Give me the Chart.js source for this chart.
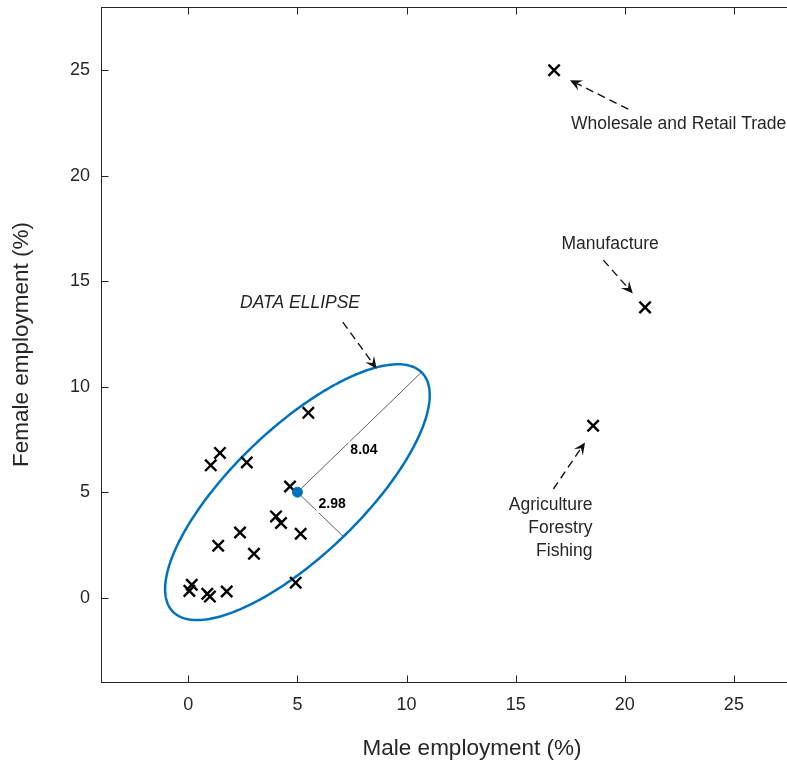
<!DOCTYPE html>
<html><head><meta charset="utf-8">
<script src="https://cdn.jsdelivr.net/npm/chart.js@4.4.1/dist/chart.umd.min.js"></script>
<style>
html,body{margin:0;padding:0;background:#fff;width:787px;height:766px;overflow:hidden;}
#wrap{width:845px;height:766px;}
canvas{display:block;}
</style></head><body>
<div id="wrap"><canvas id="c" width="845" height="766"></canvas></div>
<script>
// ---- data (percent of employment by sector) ----
const maleEmployment   = [5.50,1.45,1.03,2.68,4.66,4.02,4.25,5.15,2.37,1.37,3.01,4.92,0.16,0.05,0.87,0.99,1.76,16.76,20.93,18.55];
const femaleEmployment = [8.76,6.86,6.27,6.41,5.27,3.85,3.54,3.03,3.09,2.46,2.08,0.71,0.61,0.32,0.18,0.05,0.29,25.00,13.76,8.15];
const xTickValues = [0,5,10,15,20,25];
const yTickValues = [0,5,10,15,20,25];
const xLimits = [-4,30];
const yLimits = [-4,28];
const ellipseCenter = [5,5];
const ellipseSemiAxes = [8.04,2.98];
const ellipseAngleDeg = 45;
const axisLabels = ['8.04','2.98'];
const axisLabelAt = [[8.05,6.98],[6.59,4.45]];
const annotationTexts = [['DATA ELLIPSE'],['Wholesale and Retail Trade'],['Manufacture'],['Agriculture','Forestry','Fishing']];
const annotationAt = [[5.12,13.95],[22.47,22.45],[19.33,16.75],[18.52,4.36]];
const annotationAlign = ['center','center','center','right'];
const arrowFrom = [[7.08,13.06],[20.16,23.16],[19.02,16.00],[16.73,5.15]];
const arrowTo   = [[8.63,10.85],[17.49,24.53],[20.37,14.42],[18.18,7.36]];

const FONT = '"Liberation Sans", Arial, Helvetica, sans-serif';
const TXT = '#262626';

function drawArrow(ctx,x0,y0,x1,y1){
  const dx=x1-x0, dy=y1-y0, L=Math.hypot(dx,dy), ux=dx/L, uy=dy/L, nx=-uy, ny=ux;
  const hl=12, hw=5.5;
  ctx.setLineDash([8,5]);
  ctx.beginPath(); ctx.moveTo(x0,y0); ctx.lineTo(x1-ux*hl*0.6,y1-uy*hl*0.6); ctx.stroke();
  ctx.setLineDash([]);
  ctx.beginPath();
  ctx.moveTo(x1,y1);
  ctx.lineTo(x1-ux*hl+nx*hw,y1-uy*hl+ny*hw);
  ctx.lineTo(x1-ux*hl*0.6,y1-uy*hl*0.6);
  ctx.lineTo(x1-ux*hl-nx*hw,y1-uy*hl-ny*hw);
  ctx.closePath(); ctx.fill();
}

const ellipsePlugin = {
  id:'ellipse',
  beforeDatasetsDraw(chart){
    const ctx=chart.ctx, xs=chart.scales.x, ys=chart.scales.y;
    const th=ellipseAngleDeg*Math.PI/180, a=ellipseSemiAxes[0], b=ellipseSemiAxes[1];
    const cx=ellipseCenter[0], cy=ellipseCenter[1];
    ctx.save();
    ctx.strokeStyle='rgba(0,0,0,0.8)'; ctx.lineWidth=0.8;
    const ends=[[cx+a*Math.cos(th),cy+a*Math.sin(th)],[cx+b*Math.sin(th),cy-b*Math.cos(th)]];
    ends.forEach(e=>{ctx.beginPath();ctx.moveTo(xs.getPixelForValue(cx),ys.getPixelForValue(cy));ctx.lineTo(xs.getPixelForValue(e[0]),ys.getPixelForValue(e[1]));ctx.stroke();});
    ctx.font='bold 14px '+FONT; ctx.textAlign='center'; ctx.textBaseline='middle';
    axisLabels.forEach((t,i)=>{
      const px=xs.getPixelForValue(axisLabelAt[i][0]), py=ys.getPixelForValue(axisLabelAt[i][1]);
      const w=ctx.measureText(t).width;
      ctx.fillStyle='#fff'; ctx.fillRect(px-w/2-2,py-9,w+4,18);
      ctx.fillStyle='#000'; ctx.fillText(t,px,py);
    });
    ctx.beginPath();
    for(let i=0;i<=360;i++){
      const t=i*Math.PI/180;
      const dx=a*Math.cos(t)*Math.cos(th)-b*Math.sin(t)*Math.sin(th);
      const dy=a*Math.cos(t)*Math.sin(th)+b*Math.sin(t)*Math.cos(th);
      const px=xs.getPixelForValue(cx+dx), py=ys.getPixelForValue(cy+dy);
      if(i) ctx.lineTo(px,py); else ctx.moveTo(px,py);
    }
    ctx.closePath(); ctx.strokeStyle='#0072BD'; ctx.lineWidth=2.5; ctx.stroke();
    ctx.restore();
  },
  afterDatasetsDraw(chart){
    const ctx=chart.ctx, xs=chart.scales.x, ys=chart.scales.y;
    ctx.save();
    ctx.strokeStyle='#111'; ctx.fillStyle='#111'; ctx.lineWidth=1.4;
    arrowFrom.forEach((f,i)=>{
      drawArrow(ctx,xs.getPixelForValue(f[0]),ys.getPixelForValue(f[1]),xs.getPixelForValue(arrowTo[i][0]),ys.getPixelForValue(arrowTo[i][1]));
    });
    ctx.fillStyle=TXT; ctx.textBaseline='middle';
    annotationTexts.forEach((lines,i)=>{
      ctx.font=(i===0?'italic ':'')+'17.5px '+FONT;
      ctx.textAlign=annotationAlign[i];
      const px=xs.getPixelForValue(annotationAt[i][0]);
      lines.forEach((ln,j)=>{
        const py=ys.getPixelForValue(annotationAt[i][1])+j*22.8;
        ctx.fillText(ln,px,py);
      });
    });
    ctx.restore();
  },
  afterDraw(chart){
    const ctx=chart.ctx, xs=chart.scales.x, ys=chart.scales.y, ca=chart.chartArea;
    ctx.save();
    ctx.strokeStyle=TXT; ctx.lineWidth=1;
    const L=Math.round(ca.left)+0.5, R=Math.round(ca.right)+0.5, T=Math.round(ca.top)+0.5, B=Math.round(ca.bottom)+0.5;
    ctx.strokeRect(L,T,R-L,B-T);
    ctx.beginPath();
    xTickValues.forEach(v=>{const p=Math.round(xs.getPixelForValue(v))+0.5; ctx.moveTo(p,B); ctx.lineTo(p,B-7); ctx.moveTo(p,T); ctx.lineTo(p,T+7);});
    yTickValues.forEach(v=>{const p=Math.round(ys.getPixelForValue(v))+0.5; ctx.moveTo(L,p); ctx.lineTo(L+7,p); ctx.moveTo(R,p); ctx.lineTo(R-7,p);});
    ctx.stroke();
    ctx.restore();
  }
};

new Chart(document.getElementById('c'),{
  type:'scatter',
  data:{datasets:[
    {label:'Centre',data:[{x:ellipseCenter[0],y:ellipseCenter[1]}],pointStyle:'circle',pointRadius:5,backgroundColor:'#0072BD',borderColor:'#0072BD',borderWidth:1,order:0},
    {label:'Sectors',data:maleEmployment.map((v,i)=>({x:v,y:femaleEmployment[i]})),pointStyle:'crossRot',pointRadius:8,borderColor:'#000',backgroundColor:'#000',borderWidth:2.4,order:1}
  ]},
  options:{
    responsive:false, animation:false, events:[],
    layout:{autoPadding:false,padding:{top:7,right:2,left:0,bottom:0}},
    plugins:{legend:{display:false},tooltip:{enabled:false}},
    scales:{
      x:{type:'linear',min:xLimits[0],max:xLimits[1],
         grid:{display:false,drawTicks:false},border:{display:false},
         ticks:{color:TXT,font:{size:18,family:FONT},padding:12,maxRotation:0},
         afterBuildTicks:s=>{s.ticks=xTickValues.map(v=>({value:v}));},
         afterFit:s=>{s.height=84;s.paddingLeft=0;s.paddingRight=0;s.paddingTop=0;s.paddingBottom=0;},
         title:{display:true,text:'Male employment (%)',color:TXT,font:{size:22.5,family:FONT},padding:{top:0,bottom:3.5}}},
      y:{type:'linear',min:yLimits[0],max:yLimits[1],
         grid:{display:false,drawTicks:false},border:{display:false},
         ticks:{color:TXT,font:{size:18,family:FONT},padding:11},
         afterBuildTicks:s=>{s.ticks=yTickValues.map(v=>({value:v}));},
         afterFit:s=>{s.width=101;s.paddingLeft=0;s.paddingRight=0;s.paddingTop=0;s.paddingBottom=0;},
         title:{display:true,text:'Female employment (%)',color:TXT,font:{size:22.5,family:FONT},padding:{top:8.5,bottom:0}}}
    }
  },
  plugins:[ellipsePlugin]
});
</script>
</body></html>
